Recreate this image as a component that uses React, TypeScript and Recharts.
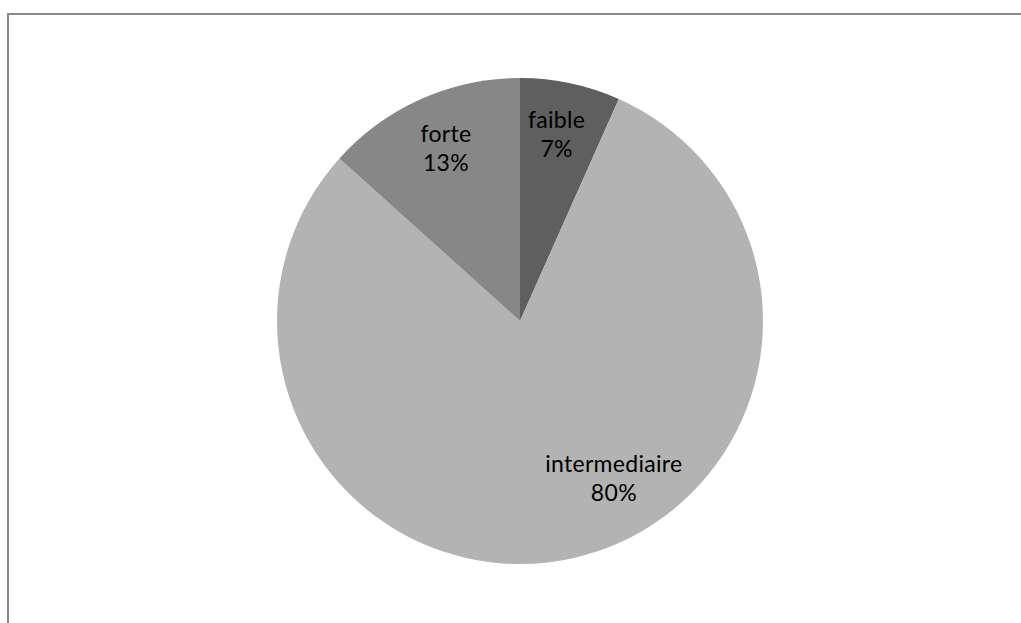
import { PieChart, Pie, Cell } from 'recharts';

// Slice data (counts: 1/15, 12/15, 2/15)
const categories = ['faible', 'intermediaire', 'forte'];
const counts = [1, 12, 2];
const sliceColors = ['#5f5f5f', '#b3b3b3', '#878787'];

const total = counts.reduce((a, b) => a + b, 0);
const chartData = categories.map((name, i) => ({ name, value: counts[i] }));

// Label placement (radius factor and angle nudge, like Excel "best fit")
const LABEL_STYLE: Record<string, { r: number; shift: number }> = {
  faible: { r: 0.79, shift: 1 },
  intermediaire: { r: 0.75, shift: 19 },
  forte: { r: 0.78, shift: -1 },
};

const RAD = Math.PI / 180;

const renderLabel = (props: any) => {
  const { cx, cy, midAngle, outerRadius, name, value } = props;
  const st = LABEL_STYLE[name] || { r: 0.78, shift: 0 };
  const a = midAngle + st.shift;
  const r = outerRadius * st.r;
  const x = cx + Math.cos(-a * RAD) * r;
  const y = cy + Math.sin(-a * RAD) * r;
  const pct = Math.round((value / total) * 100);
  return (
    <text
      x={x}
      y={y}
      textAnchor="middle"
      fill="#000"
      style={{ fontFamily: 'Lato, "Open Sans", sans-serif', fontSize: 23, letterSpacing: 0.3 }}
    >
      <tspan x={x} dy={-5}>{name}</tspan>
      <tspan x={x} dy={29}>{pct}%</tspan>
    </text>
  );
};

export default function App() {
  return (
    <div style={{ position: 'absolute', left: 0, top: 0, width: 1021, height: 623, background: '#fff', overflow: 'hidden' }}>
      <div
        style={{
          position: 'absolute',
          left: 7,
          top: 13,
          width: 1030,
          height: 620,
          borderTop: '2px solid #888',
          borderLeft: '2px solid #888',
        }}
      />
      <PieChart
        width={1021}
        height={623}
        margin={{ top: 0, right: 0, bottom: 0, left: 0 }}
        style={{ position: 'absolute', left: 0, top: 0 }}
      >
        <Pie
          data={chartData}
          dataKey="value"
          nameKey="name"
          cx={520}
          cy={321}
          outerRadius={243}
          startAngle={90}
          endAngle={-270}
          stroke="none"
          label={renderLabel}
          labelLine={false}
          isAnimationActive={false}
        >
          {chartData.map((d, i) => (
            <Cell key={d.name} fill={sliceColors[i]} />
          ))}
        </Pie>
      </PieChart>
    </div>
  );
}
